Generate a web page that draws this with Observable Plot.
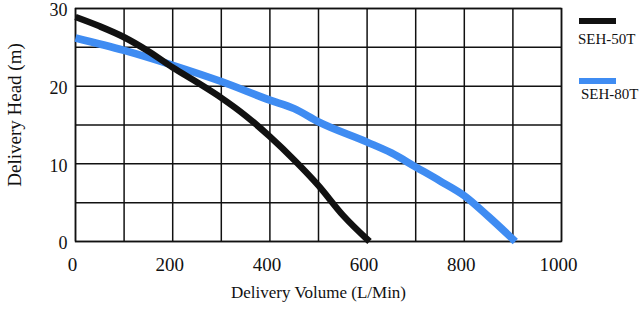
<!DOCTYPE html>
<html>
<head>
<meta charset="utf-8">
<script src="https://cdn.jsdelivr.net/npm/d3@7"></script>
<script src="https://cdn.jsdelivr.net/npm/@observablehq/plot@0.6"></script>
<style>
  html, body { margin: 0; padding: 0; background: #fff; }
  #wrap { position: relative; width: 640px; height: 310px; font-family: "Liberation Serif", "Times New Roman", serif; }
  .lg-bar { position: absolute; width: 37px; height: 6px; }
  .lg-txt { position: absolute; font-size: 15px; line-height: 15px; color: #111; white-space: nowrap; }
</style>
</head>
<body>
<div id="wrap"></div>
<script>
// Series names and colours
const seriesNames = ["SEH-50T", "SEH-80T"];
const seriesColors = ["#111111", "#3f8cf2"];

// SEH-50T curve (flow L/Min, head m)
const flow50 = [0, 50, 100, 150, 200, 250, 300, 350, 400, 450, 500, 550, 605];
const head50 = [28.9, 27.7, 26.3, 24.5, 22.4, 20.5, 18.5, 16.2, 13.5, 10.5, 7.2, 3.4, 0];

// SEH-80T curve
const flow80 = [0, 100, 200, 300, 400, 450, 500, 600, 650, 700, 750, 800, 850, 905];
const head80 = [26.2, 24.6, 22.7, 20.6, 18.2, 17.1, 15.4, 12.8, 11.4, 9.6, 7.8, 5.9, 3.2, 0];

// Ticks and labels
const xTicks = [0, 200, 400, 600, 800, 1000];
const yTicks = [0, 10, 20, 30];
const xGrid = [0, 100, 200, 300, 400, 500, 600, 700, 800, 900, 1000];
const yGrid = [0, 5, 10, 15, 20, 25, 30];
const xLabel = ["Delivery Volume (L/Min)"];
const yLabel = ["Delivery Head (m)"];

const data50 = flow50.map((f, i) => ({flow: f, head: head50[i]}));
const data80 = flow80.map((f, i) => ({flow: f, head: head80[i]}));

const chart = Plot.plot({
  width: 640,
  height: 310,
  marginLeft: 75,
  marginRight: 79,
  marginTop: 8,
  marginBottom: 69,
  style: {fontFamily: "Liberation Serif, Times New Roman, serif", fontSize: "17px", color: "#111", background: "#fff"},
  x: {domain: [0, 1000]},
  y: {domain: [0, 30]},
  marks: [
    Plot.gridX(xGrid, {stroke: "#111", strokeOpacity: 1, strokeWidth: 1.5}),
    Plot.gridY(yGrid, {stroke: "#111", strokeOpacity: 1, strokeWidth: 1.5}),
    Plot.frame({stroke: "#111", strokeWidth: 1.5}),
    Plot.axisX(xTicks, {tickSize: 0, tickPadding: 16, label: null, fontSize: 19, tickFormat: d => String(d), dx: -3}),
    Plot.axisY(yTicks, {tickSize: 0, tickPadding: 8, label: null, fontSize: 18, dy: 2, tickFormat: d => String(d)}),
    Plot.line(data80, {x: "flow", y: "head", stroke: seriesColors[1], strokeWidth: 7.5, curve: "monotone-x", strokeLinecap: "butt"}),
    Plot.line(data50, {x: "flow", y: "head", stroke: seriesColors[0], strokeWidth: 6.5, curve: "monotone-x", strokeLinecap: "butt"}),
    Plot.text(xLabel, {text: d => d, frameAnchor: "bottom", dy: 56, fontSize: 17, fill: "#111"}),
    Plot.text(yLabel, {text: d => d, frameAnchor: "left", textAnchor: "middle", dx: -61, dy: -10, rotate: -90, fontSize: 19, fill: "#111"})
  ]
});

const wrap = document.getElementById("wrap");
wrap.appendChild(chart);

// Legend overlay
const legendPos = [{bar: 18, txt: 32, tx: 578}, {bar: 78, txt: 87, tx: 581}];
seriesNames.forEach((name, i) => {
  const bar = document.createElement("div");
  bar.className = "lg-bar";
  bar.style.left = "579px";
  bar.style.top = legendPos[i].bar + "px";
  bar.style.background = seriesColors[i];
  wrap.appendChild(bar);
  const t = document.createElement("div");
  t.className = "lg-txt";
  t.style.left = legendPos[i].tx + "px";
  t.style.top = legendPos[i].txt + "px";
  t.textContent = name;
  wrap.appendChild(t);
});
</script>
</body>
</html>
